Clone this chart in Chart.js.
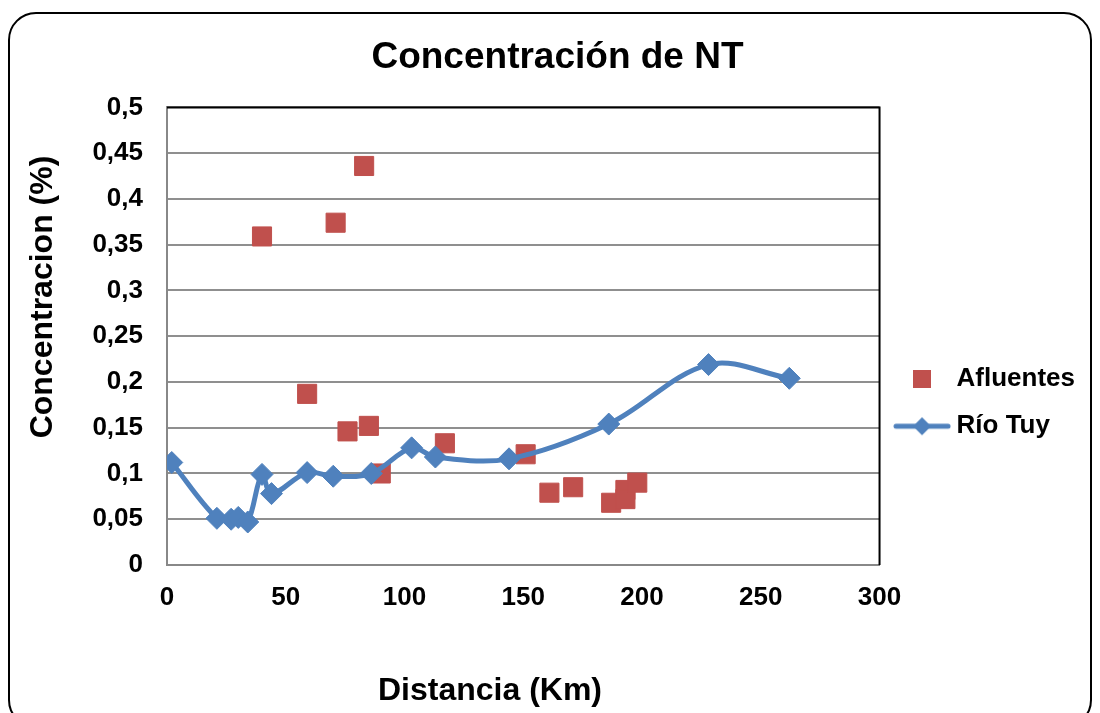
<!DOCTYPE html>
<html>
<head>
<meta charset="utf-8">
<script src="https://cdn.jsdelivr.net/npm/chart.js@4.4.1/dist/chart.umd.min.js"></script>
<style>
  html, body { margin: 0; padding: 0; background: #fff; overflow: hidden; }
  #frame { position: absolute; left: 8px; top: 12px; width: 1080px; height: 712px; border: 2px solid #000; border-radius: 28px; }
  #wrap { position: absolute; left: 0; top: 0; width: 1100px; height: 713px; }
</style>
</head>
<body>
<div id="frame"></div>
<div id="wrap"><canvas id="ntChart" width="1100" height="713"></canvas></div>
<script>
// Río Tuy (main river) samples
var rioKm = [2, 21, 27, 30, 34, 40, 44, 59, 70, 86, 103, 113, 144, 186, 228, 262];
var rioNT = [0.112, 0.051, 0.050, 0.052, 0.047, 0.099, 0.078, 0.101, 0.097, 0.100, 0.128, 0.118, 0.116, 0.154, 0.219, 0.204];

// tributaries (afluentes)
var afluKm = [40, 59, 71, 76, 83, 85, 90, 117, 151, 161, 171, 187, 193, 193, 198];
var afluNT = [0.359, 0.187, 0.374, 0.146, 0.436, 0.152, 0.100, 0.133, 0.121, 0.079, 0.085, 0.068, 0.082, 0.072, 0.090];

var xTickLabels = ['0', '50', '100', '150', '200', '250', '300'];
var yTickLabels = ['0', '0,05', '0,1', '0,15', '0,2', '0,25', '0,3', '0,35', '0,4', '0,45', '0,5'];

var chartTitle = 'Concentración de NT';
var xTitle = 'Distancia (Km)';
var yTitle = 'Concentracion (%)';

(function() {
    var fam = "'Liberation Sans', Arial, sans-serif";
    var red = '#C0504D';
    var blue = '#4F81BD';

    Chart.defaults.font.family = fam;
    Chart.defaults.color = '#000';

    function toPoints(xs, ys) {
        return xs.map(function(x, i) { return {x: x, y: ys[i]}; });
    }

    // legend symbols
    var squareIcon = document.createElement('canvas');
    squareIcon.width = 18; squareIcon.height = 18;
    var g = squareIcon.getContext('2d');
    g.fillStyle = red;
    g.fillRect(0, 0, 18, 18);

    var lineIcon = document.createElement('canvas');
    lineIcon.width = 58; lineIcon.height = 20;
    g = lineIcon.getContext('2d');
    g.strokeStyle = blue; g.lineWidth = 5; g.lineCap = 'round';
    g.beginPath(); g.moveTo(3, 10); g.lineTo(55, 10); g.stroke();
    g.fillStyle = blue;
    g.beginPath(); g.moveTo(29, 1); g.lineTo(38, 10); g.lineTo(29, 19); g.lineTo(20, 10); g.closePath(); g.fill();

    // axis titles + dark top/right edges of the plot area
    var extras = {
        id: 'extras',
        afterDraw: function(chart) {
            var ctx = chart.ctx;
            var a = chart.chartArea;
            ctx.save();
            ctx.strokeStyle = '#000';
            ctx.lineWidth = 2;
            ctx.beginPath();
            ctx.moveTo(a.left, a.top);
            ctx.lineTo(a.right, a.top);
            ctx.lineTo(a.right, a.bottom);
            ctx.stroke();

            ctx.fillStyle = '#000';
            ctx.font = 'bold 32px ' + fam;
            ctx.textAlign = 'center';
            ctx.textBaseline = 'alphabetic';
            ctx.fillText(xTitle, 490, 700);
            ctx.translate(52, 297);
            ctx.rotate(-Math.PI / 2);
            ctx.fillText(yTitle, 0, 0);
            ctx.restore();
        }
    };

    var ctx = document.getElementById('ntChart').getContext('2d');
    new Chart(ctx, {
        type: 'scatter',
        data: {
            datasets: [{
                label: 'Afluentes',
                data: toPoints(afluKm, afluNT),
                pointStyle: 'rect',
                pointRadius: 13.5,
                pointBorderWidth: 1,
                backgroundColor: red,
                borderColor: red,
                order: 2
            }, {
                label: 'Río Tuy',
                data: toPoints(rioKm, rioNT),
                showLine: true,
                tension: 0.35,
                borderWidth: 5,
                borderColor: blue,
                backgroundColor: blue,
                pointStyle: 'rectRot',
                pointRadius: 11,
                pointBorderWidth: 1,
                order: 1
            }]
        },
        options: {
            responsive: false,
            animation: false,
            events: [],
            layout: {
                padding: {left: 30, right: 15, top: 0, bottom: 20}
            },
            plugins: {
                title: {
                    display: true,
                    text: chartTitle,
                    font: {size: 37, weight: 'bold'},
                    color: '#000',
                    padding: {top: 36, bottom: 27}
                },
                legend: {
                    position: 'right',
                    title: {display: true, text: '', padding: {top: 98, bottom: 0}},
                    labels: {
                        usePointStyle: true,
                        pointStyleWidth: 43,
                        padding: 21,
                        color: '#000',
                        font: {size: 26, weight: 'bold'},
                        sort: function(a, b) { return a.datasetIndex - b.datasetIndex; },
                        generateLabels: function(chart) {
                            var items = Chart.defaults.plugins.legend.labels.generateLabels(chart);
                            items.forEach(function(it) {
                                it.pointStyle = it.datasetIndex === 0 ? squareIcon : lineIcon;
                            });
                            return items;
                        }
                    }
                },
                tooltip: {enabled: false}
            },
            scales: {
                x: {
                    type: 'linear',
                    min: 0,
                    max: 300,
                    afterFit: function(scale) { scale.height = 128; },
                    grid: {display: false, drawTicks: false},
                    border: {display: true, color: '#888', width: 2},
                    ticks: {
                        stepSize: 50,
                        padding: 17,
                        font: {size: 26, weight: 'bold'},
                        callback: function(v, i) { return xTickLabels[i]; }
                    }
                },
                y: {
                    min: 0,
                    max: 0.5,
                    afterFit: function(scale) { scale.width = 137; },
                    grid: {color: '#8f8f8f', lineWidth: 2, drawTicks: false},
                    border: {display: true, color: '#888', width: 2},
                    ticks: {
                        stepSize: 0.05,
                        padding: 24,
                        font: {size: 26, weight: 'bold'},
                        callback: function(v, i) { return yTickLabels[i]; }
                    }
                }
            }
        },
        plugins: [extras]
    });
})();
</script>
</body>
</html>
